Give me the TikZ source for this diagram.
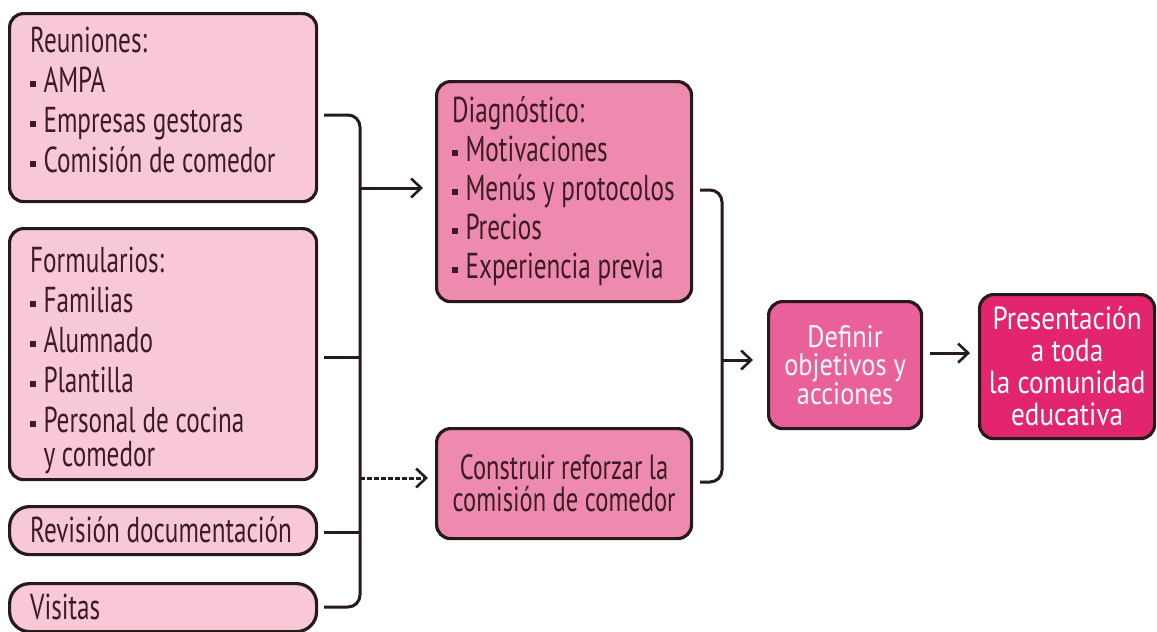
\documentclass[tikz,border=0pt]{standalone}
\usepackage{fontspec}
\setmainfont{PT Sans}[FakeStretch=0.7]
\newfontfamily\widefont{PT Sans}[FakeStretch=0.85]
\usetikzlibrary{arrows.meta,calc}
\definecolor{lightpk}{HTML}{F9C8D8}
\definecolor{midpk}{HTML}{EE8AB0}
\definecolor{defpk}{HTML}{E9609A}
\definecolor{deeppk}{HTML}{E2256C}
\definecolor{inkc}{HTML}{261A1A}
\definecolor{txtc}{HTML}{3B1C24}
\newcommand\bul{\raisebox{0.3ex}{\rule{0.15em}{0.15em}}\hspace{0.22em}}
\newcommand\topstrut{\rule{0pt}{30pt}}
\tikzset{
  box/.style={draw=inkc, line width=3.2pt, rounded corners=14pt, anchor=north west,
    text=txtc, font=\fontsize{36}{40}\selectfont, inner sep=0pt},
  leftbox/.style={box, fill=lightpk, minimum width=307pt},
  txt/.style={text=txtc, font=\fontsize{36}{40}\selectfont, inner sep=0pt, align=left, anchor=north west},
  link/.style={draw=inkc, line width=3pt},
  arr/.style={link, -{Straight Barb[length=10pt,width=19pt,line width=2.6pt]}},
}
\begin{document}
\begin{tikzpicture}[x=1pt,y=-1pt]
\useasboundingbox (0,0) rectangle (1157,632);
% left boxes
\node[leftbox, minimum height=188pt] (r) at (8,12) {};
\node[txt] (rt) at ([xshift=22pt,yshift=-10pt]r.north west)
  {\topstrut Reuniones:\\ \bul AMPA\\ \bul Empresas gestoras\\ \bul Comisión de comedor};
\node[leftbox, minimum height=251pt] (f) at (8,227) {};
\node[txt] (ft) at ([xshift=22pt,yshift=-15pt]f.north west)
  {\topstrut Formularios:\\ \bul Familias\\ \bul Alumnado\\ \bul Plantilla\\ \bul Personal de cocina\\[-6pt] \hspace*{0.37em}y comedor};
\node[leftbox, minimum height=48pt, rounded corners=20pt] (rv) at (8,505) {};
\node[txt, anchor=base west] (rvt) at ([xshift=22pt,yshift=-12pt]rv.west) {Revisión documentación};
\node[leftbox, minimum height=48pt, rounded corners=20pt] (v) at (8,582) {};
\node[txt, anchor=base west] (vt) at ([xshift=22pt,yshift=-12pt]v.west) {Visitas};
% middle boxes
\node[box, fill=midpk, minimum width=255pt, minimum height=220pt] (d) at (435,80) {};
\node[txt, font=\fontsize{36}{39}\selectfont] (dt) at ([xshift=17pt,yshift=-12pt]d.north west)
  {\topstrut Diagnóstico:\\ \bul Motivaciones\\ \bul Menús y protocolos\\ \bul Precios\\ \bul Experiencia previa};
\node[box, fill=midpk, align=center, minimum width=255pt, minimum height=110pt,
  font=\fontsize{35}{32}\selectfont] (c) at (435,427)
  {Construir reforzar la\\ comisión de comedor};
% right boxes
\node[box, fill=defpk, align=center, text=white!90!pink, minimum width=153pt, minimum height=127pt,
  font=\widefont\fontsize{31}{28}\selectfont] (def) at (767,300)
  {Definir\\ objetivos y\\ acciones};
\node[box, fill=deeppk, align=center, text=white, minimum width=175pt, minimum height=144pt,
  font=\widefont\fontsize{32}{32}\selectfont] (pres) at (978,293)
  {Presentación\\ a toda\\ la comunidad\\ educativa};
% left bracket
\coordinate (b1) at (360,115);
\coordinate (bf) at (360,357);
\coordinate (br) at (360,532);
\coordinate (b4) at (360,607);
\coordinate (ad) at (360,188);
\coordinate (ac) at (360,478);
\draw[link, rounded corners=12pt] ([xshift=6pt]r.east|-b1) -- (b1) -- (b4) -- ([xshift=6pt]v.east|-b4);
\draw[link] ([xshift=6pt]f.east|-bf) -- (bf);
\draw[link] ([xshift=6pt]rv.east|-br) -- (br);
\draw[arr, shorten >=12pt] (ad) -- (d.west|-ad);
\draw[arr, dash pattern=on 5pt off 2pt, shorten >=7pt] (ac) -- (c.west|-ac);
% right bracket
\coordinate (e1) at (722,190);
\coordinate (e2) at (722,482);
\coordinate (ae) at (722,360);
\draw[link, rounded corners=12pt] ([xshift=7pt]d.east|-e1) -- (e1) -- (e2) -- ([xshift=7pt]c.east|-e2);
\draw[arr, shorten >=14pt] (ae) -- (def.west|-ae);
\draw[arr, shorten <=7pt, shorten >=8pt] ([yshift=12pt]def.east) -- ([yshift=12pt]def.east-|pres.west);
\end{tikzpicture}
\end{document}
